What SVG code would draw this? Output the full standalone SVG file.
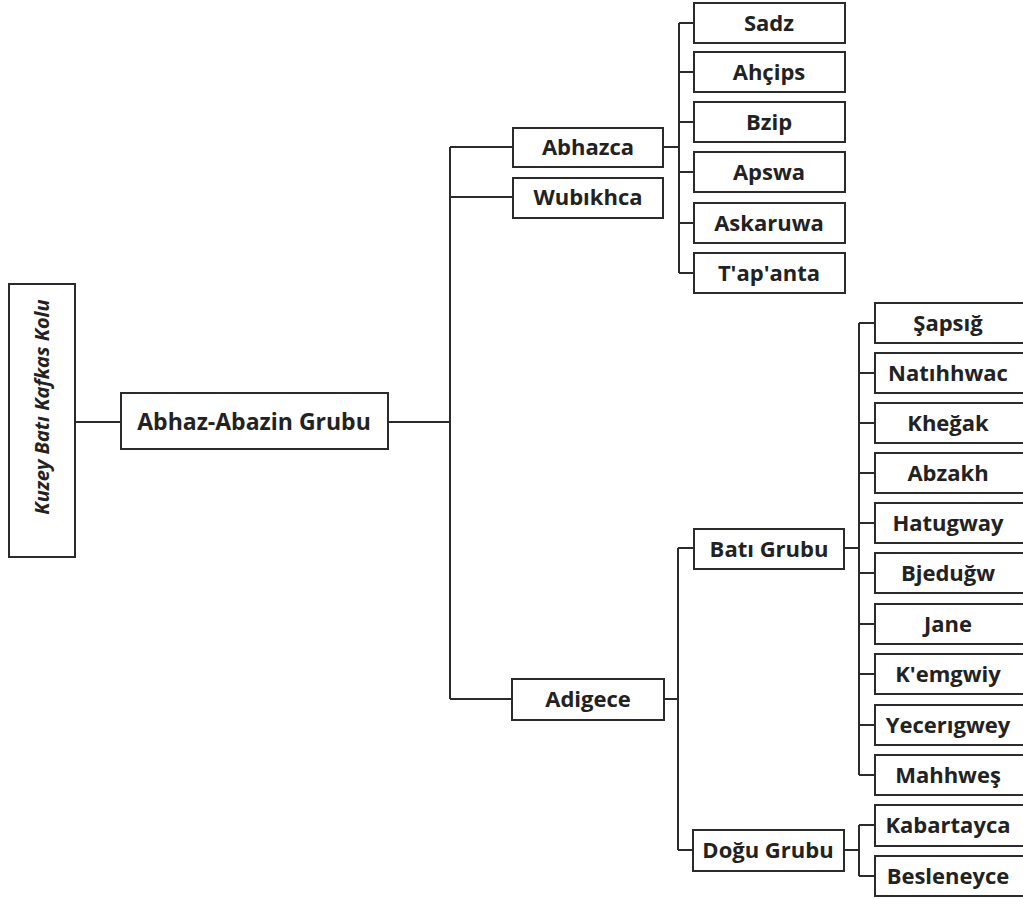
<svg xmlns="http://www.w3.org/2000/svg" width="1023" height="899" viewBox="0 0 1023 899">
<style>
.box{fill:#fff;stroke:#2b2b2b;stroke-width:2}
.t{font-family:"Open Sans","Liberation Sans",sans-serif;font-weight:700;font-size:22px;fill:#222;text-anchor:middle}
.c{fill:none;stroke:#2b2b2b;stroke-width:2}
</style>
<rect width="1023" height="899" fill="#fff"/>
<g id="connectors" class="c">
<path d="M75 422H121M388 422H450M450 147V699M450 147H513M450 197H513M450 699H512"/>
<path d="M663 147H679M679 23V273M679 23H694M679 72H694M679 122H694M679 172H694M679 223H694M679 273H694"/>
<path d="M664 699H678M678 548V850M678 548H694M678 850H693"/>
<path d="M844 548H859M859 323V775M859 323H875M859 373H875M859 423H875M859 473H875M859 523H875M859 573H875M859 624H875M859 674H875M859 725H875M859 775H875"/>
<path d="M844 850H859M859 825V876M859 825H875M859 876H875"/>
</g>
<g id="root"><rect class="box" x="9" y="284" width="66" height="273"/><text class="t" transform="translate(49 407) rotate(-90)" style="font-style:italic;font-size:20px">Kuzey Batı Kafkas Kolu</text></g>
<g id="abhaz-abazin"><rect class="box" x="121" y="393" width="267" height="56"/><text class="t" x="254" y="430" style="font-size:23px">Abhaz-Abazin Grubu</text></g>
<g id="abhazca"><rect class="box" x="513" y="128" width="150" height="39"/><text class="t" x="588" y="155">Abhazca</text></g>
<g id="wubikhca"><rect class="box" x="513" y="178" width="150" height="40"/><text class="t" x="588" y="205">Wubıkhca</text></g>
<g id="adigece"><rect class="box" x="512" y="679" width="152" height="41"/><text class="t" x="588" y="707">Adigece</text></g>
<g id="sadz"><rect class="box" x="694" y="3" width="151" height="40"/><text class="t" x="769" y="31">Sadz</text></g>
<g id="ahcips"><rect class="box" x="694" y="52" width="151" height="40"/><text class="t" x="769" y="80">Ahçips</text></g>
<g id="bzip"><rect class="box" x="694" y="102" width="151" height="40"/><text class="t" x="769" y="130">Bzip</text></g>
<g id="apswa"><rect class="box" x="694" y="152" width="151" height="40"/><text class="t" x="769" y="180">Apswa</text></g>
<g id="askaruwa"><rect class="box" x="694" y="203" width="151" height="40"/><text class="t" x="769" y="231">Askaruwa</text></g>
<g id="tapanta"><rect class="box" x="694" y="253" width="151" height="40"/><text class="t" x="769" y="281">T'ap'anta</text></g>
<g id="bati"><rect class="box" x="694" y="529" width="150" height="40"/><text class="t" x="769" y="557">Batı Grubu</text></g>
<g id="dogu"><rect class="box" x="693" y="830" width="151" height="41"/><text class="t" x="768" y="858">Doğu Grubu</text></g>
<g id="sapsig"><rect class="box" x="875" y="303" width="160" height="40"/><text class="t" x="948" y="331">Şapsığ</text></g>
<g id="natihhwac"><rect class="box" x="875" y="353" width="160" height="40"/><text class="t" x="948" y="381">Natıhhwac</text></g>
<g id="khegak"><rect class="box" x="875" y="403" width="160" height="40"/><text class="t" x="948" y="431">Kheğak</text></g>
<g id="abzakh"><rect class="box" x="875" y="453" width="160" height="40"/><text class="t" x="948" y="481">Abzakh</text></g>
<g id="hatugway"><rect class="box" x="875" y="503" width="160" height="40"/><text class="t" x="948" y="531">Hatugway</text></g>
<g id="bjedugw"><rect class="box" x="875" y="553" width="160" height="40"/><text class="t" x="948" y="581">Bjeduğw</text></g>
<g id="jane"><rect class="box" x="875" y="604" width="160" height="40"/><text class="t" x="948" y="632">Jane</text></g>
<g id="kemgwiy"><rect class="box" x="875" y="654" width="160" height="40"/><text class="t" x="948" y="682">K'emgwiy</text></g>
<g id="yecerigwey"><rect class="box" x="875" y="705" width="160" height="40"/><text class="t" x="948" y="733">Yecerıgwey</text></g>
<g id="mahhwes"><rect class="box" x="875" y="755" width="160" height="40"/><text class="t" x="948" y="783">Mahhweş</text></g>
<g id="kabartayca"><rect class="box" x="875" y="805" width="160" height="41"/><text class="t" x="948" y="833">Kabartayca</text></g>
<g id="besleneyce"><rect class="box" x="875" y="856" width="160" height="40"/><text class="t" x="948" y="884">Besleneyce</text></g>
</svg>
